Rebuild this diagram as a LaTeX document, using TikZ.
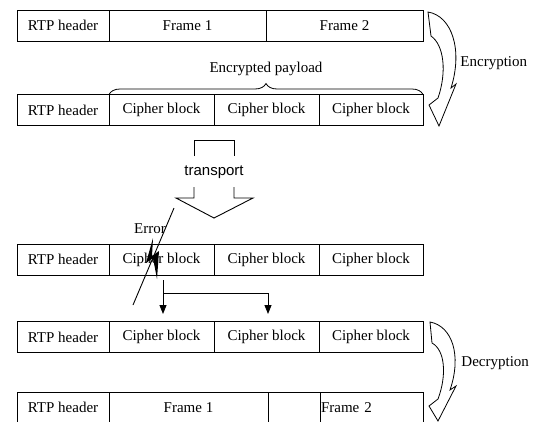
\documentclass[tikz,border=0pt]{standalone}
\usepackage{fontspec}
\setmainfont{Liberation Serif}
\newfontfamily\sansf{Liberation Sans}
\usetikzlibrary{arrows.meta,decorations.pathreplacing}
\begin{document}
\begin{tikzpicture}[x=1pt,y=-1pt, line width=0.9pt,
  cell/.style={draw, minimum height=31pt, inner sep=0pt, outer sep=0pt,
    font=\fontsize{15}{18}\selectfont, anchor=center},
  lbl/.style={font=\fontsize{15}{18}\selectfont, inner sep=0pt},
  bandarrow/.style={draw, fill=white, line width=0.8pt, line join=miter},
  flow/.style={-{Triangle[length=9pt,width=7pt]}, line width=0.9pt}]
\useasboundingbox (0,0) rectangle (534,421);
\clip (0,0) rectangle (534,421);

% Row 1
\node[cell, minimum width=92pt]  (a1) at (63,25.5)    {RTP header};
\node[cell, minimum width=157pt] (a2) at (187.5,25.5) {Frame 1};
\node[cell, minimum width=157pt] (a3) at (344.5,25.5) {Frame 2};

% Row 2
\node[cell, minimum width=92pt]  (b1) at (63,110)    {RTP header};
\node[cell, minimum width=105pt] (b2) at (161.5,110) {Cipher block};
\node[cell, minimum width=105pt] (b3) at (266.5,110) {Cipher block};
\node[cell, minimum width=104pt] (b4) at (371,110)   {Cipher block};

% Row 3
\node[cell, minimum width=92pt]  (c1) at (63,259.5)    {RTP header};
\node[cell, minimum width=105pt] (c2) at (161.5,259.5) {Cipher block};
\node[cell, minimum width=105pt] (c3) at (266.5,259.5) {Cipher block};
\node[cell, minimum width=104pt] (c4) at (371,259.5)   {Cipher block};

% Row 4
\node[cell, minimum width=92pt]  (d1) at (63,337)    {RTP header};
\node[cell, minimum width=105pt] (d2) at (161.5,337) {Cipher block};
\node[cell, minimum width=105pt] (d3) at (266.5,337) {Cipher block};
\node[cell, minimum width=104pt] (d4) at (371,337)   {Cipher block};

% Row 5
\node[cell, minimum width=92pt]  (e1) at (63,407.5)    {RTP header};
\node[cell, minimum width=159pt] (e2) at (188.5,407.5) {Frame 1};
\node[cell, minimum width=52pt]  (e3) at (294,407.5)   {};
\node[cell, minimum width=103pt, text width=101pt, inner xsep=1pt, align=left] (e4) at (371.5,407.5) {Frame 2};

% Brace
\draw[decorate, decoration={brace, amplitude=11pt}, line width=0.8pt] (b2.north west) -- (b4.north east);
\node[lbl] (encp) at (266,69) {Encrypted payload};

% Encryption curved arrow
\draw[bandarrow] (428,12) .. controls (452,16) and (463,50) .. (451,88)
  -- (456,84) -- (439,126) -- (429,105) -- (438,98)
  .. controls (447,72) and (444,45) .. (431,36) -- cycle;
\node[lbl, anchor=west] (enc) at (460,63) {Encryption};

% Transport arrow
\node[font=\sansf\fontsize{15}{18}\selectfont, inner sep=0pt] (tr) at (214,172) {transport};
\draw (194,156) -- (194,140) -- (234,140) -- (234,156);
\draw (194,187) -- (194,198) -- (176,198) -- (214,218) -- (253,198) -- (234,198) -- (234,187);

% Error
\node[lbl] (err) at (150,229) {Error};
\draw (174,208) -- (133,305);
\fill (153,238) -- (146,263) -- (153,258) -- (157,279) -- (159,251) -- (152,256) -- cycle;

% Flow arrows
\coordinate (s1) at (163,280);
\coordinate (j1) at (163,293);
\coordinate (t1) at (163,314);
\coordinate (t2) at (268,314);
\draw[flow] (s1) -- (t1);
\draw[flow] (j1) -| (t2);

% Decryption curved arrow
\draw[bandarrow] (430,322) .. controls (452,326) and (462,355) .. (450,390)
  -- (456,386) -- (438,421) -- (429,406) -- (438,399)
  .. controls (447,375) and (445,350) .. (432,343) -- cycle;
\node[lbl, anchor=west] (dec) at (461,363) {Decryption};
\end{tikzpicture}
\end{document}
